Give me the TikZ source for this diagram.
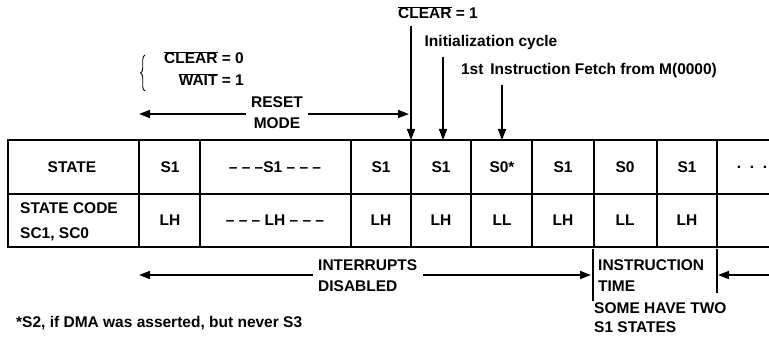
\documentclass[tikz,border=0pt]{standalone}
\usepackage{fontspec}
\setmainfont{Liberation Sans}
\usetikzlibrary{arrows.meta,decorations.pathreplacing}
\newcommand{\ovl}[1]{\ensuremath{\overline{\mbox{#1}}}}
\begin{document}
\begin{tikzpicture}[x=1pt,y=-1pt,
  every node/.style={inner sep=0pt,font=\fontsize{15.5}{18}\selectfont\bfseries},
  grid/.style={line width=1.8pt},
  arr/.style={line width=1.6pt,-{Triangle[length=11pt,width=8pt]}},
  lbl/.style={anchor=base west},
  cell/.style={anchor=center}]
\useasboundingbox (0,0) rectangle (769,339);
% table
\draw[grid] (769,140) -- (8,140) -- (8,247) -- (769,247);
\draw[grid] (8,194) -- (769,194);
\foreach \x in {139,200,351,411,471,532,594,657,717}
  \draw[grid] (\x,140) -- (\x,247);
% row 1
\node[cell] (hstate) at (72,167) {STATE};
\node[cell] (a1) at (170,167) {S1};
\node[cell] (a2) at (275,167) {– – –S1 – – –};
\node[cell] (a3) at (381,167) {S1};
\node[cell] (a4) at (441,167) {S1};
\node[cell] (a5) at (502,167) {S0*};
\node[cell] (a6) at (563,167) {S1};
\node[cell] (a7) at (625,167) {S0};
\node[cell] (a8) at (687,167) {S1};
\node[cell] (a9) at (752,167) {.\;\;.\;\;.};
% row 2
\node[lbl] (hcode) at (20,214) {STATE CODE};
\node[lbl] (hsc) at (20,239) {SC1, SC0};
\node[cell] (b1) at (170,220) {LH};
\node[cell] (b2) at (275,220) {– – – LH – – –};
\node[cell] (b3) at (381,220) {LH};
\node[cell] (b4) at (441,220) {LH};
\node[cell] (b5) at (502,220) {LL};
\node[cell] (b6) at (563,220) {LH};
\node[cell] (b7) at (625,220) {LL};
\node[cell] (b8) at (687,220) {LH};
% top annotations
\draw[line width=0.9pt,decorate,decoration={brace,amplitude=4.5pt}] (145,91) -- (145,55);
\node[anchor=base east] (clr0) at (244,64) {\ovl{CLEAR} = 0};
\node[anchor=base east] (wait1) at (244,86) {\ovl{WAIT} = 1};
\node[anchor=base] (reset) at (277,108) {RESET};
\node[anchor=base] (mode) at (277,129) {MODE};
\coordinate (rmL) at (139,114);
\coordinate (rmR) at (409,114);
\draw[arr] (246,114) -- (rmL);
\draw[arr] (308,114) -- (rmR);
\node[anchor=base] (clr1) at (438,19) {\ovl{CLEAR} = 1};
\coordinate (t1) at (411,140);
\coordinate (t2) at (443,140);
\coordinate (t3) at (502,140);
\draw[arr] (411,26) -- (t1);
\node[anchor=base] (init) at (491,47) {Initialization cycle};
\draw[arr] (443,57) -- (t2);
\node[anchor=base] (fetch) at (589,75) {1st\, Instruction Fetch from M(0000)};
\draw[arr] (502,85) -- (t3);
% bottom annotations
\node[lbl] (intr) at (318,271) {INTERRUPTS};
\node[lbl] (dis) at (318,291) {DISABLED};
\coordinate (idL) at (139,275);
\coordinate (idR) at (591,275);
\draw[arr] (313,275) -- (idL);
\draw[arr] (423,275) -- (idR);
\coordinate (bar1t) at (593,249);
\coordinate (bar1b) at (593,301);
\coordinate (bar2t) at (717,249);
\coordinate (bar2b) at (717,293);
\draw[line width=1.2pt] (bar1t) -- (bar1b);
\draw[line width=1.2pt] (bar2t) -- (bar2b);
\node[lbl] (instr) at (598,271) {INSTRUCTION};
\node[lbl] (time) at (598,291) {TIME};
\coordinate (edgeR) at (769,275);
\coordinate (bar2m) at (718,275);
\draw[arr] (edgeR) -- (bar2m);
\node[lbl] (some) at (594,313) {SOME HAVE TWO};
\node[lbl] (s1st) at (594,332) {S1 STATES};
\node[lbl] (foot) at (16,327) {*S2, if DMA was asserted, but never S3};
\end{tikzpicture}
\end{document}
